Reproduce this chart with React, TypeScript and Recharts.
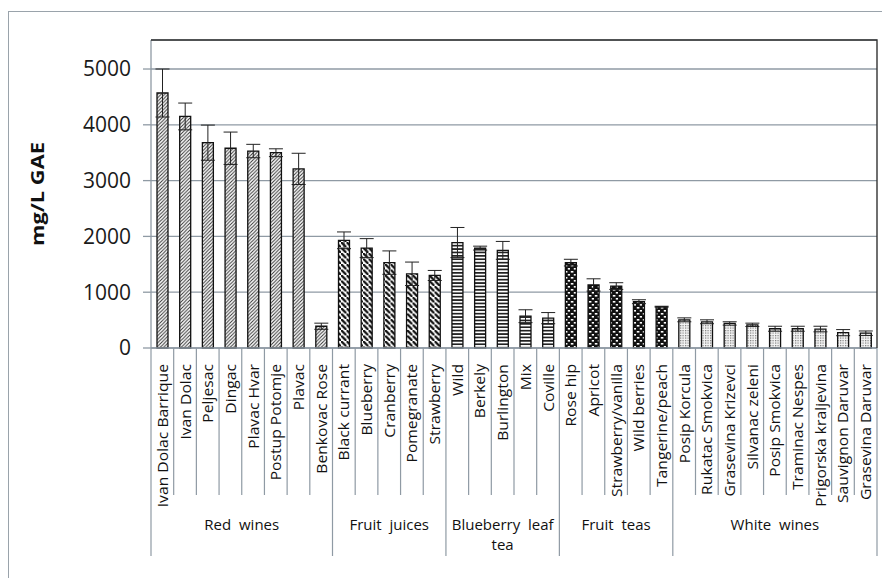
import React from "react";
import {
  BarChart,
  Bar,
  Cell,
  ErrorBar,
  XAxis,
  YAxis,
  CartesianGrid,
} from "recharts";

// Categories, grouped as on the original axis
const redWines = ["Ivan Dolac Barrique", "Ivan Dolac", "Peljesac", "Dingac", "Plavac Hvar", "Postup Potomje", "Plavac", "Benkovac Rose"];
const redWineValues = [4570, 4150, 3680, 3580, 3530, 3500, 3210, 390];
const redWineErrors = [430, 240, 315, 290, 120, 70, 280, 55];

const fruitJuices = ["Black currant", "Blueberry", "Cranberry", "Pomegranate", "Strawberry"];
const fruitJuiceValues = [1930, 1790, 1530, 1330, 1300];
const fruitJuiceErrors = [150, 170, 210, 210, 90];

const leafTeas = ["Wild", "Berkely", "Burlington", "Mix", "Coville"];
const leafTeaValues = [1890, 1790, 1750, 570, 535];
const leafTeaErrors = [270, 35, 160, 115, 100];

const fruitTeas = ["Rose hip", "Apricot", "Strawberry/vanilla", "Wild berries", "Tangerine/peach"];
const fruitTeaValues = [1530, 1130, 1110, 830, 740];
const fruitTeaErrors = [60, 110, 60, 35, 8];

const whiteWines = ["Posip Korcula", "Rukatac Smokvica", "Grasevina Krizevci", "Silvanac zeleni", "Posip Smokvica", "Traminac Nespes", "Prigorska kraljevina", "Sauvignon Daruvar", "Grasevina Daruvar"];
const whiteWineValues = [505, 470, 440, 415, 345, 345, 340, 275, 265];
const whiteWineErrors = [35, 35, 30, 30, 45, 45, 50, 55, 40];

const yTicks = [0, 1000, 2000, 3000, 4000, 5000];
const Y_MAX = 5520;

const groups = [
  { key: "red", label: ["Red  wines"], names: redWines, values: redWineValues, errors: redWineErrors },
  { key: "juice", label: ["Fruit  juices"], names: fruitJuices, values: fruitJuiceValues, errors: fruitJuiceErrors },
  { key: "leaf", label: ["Blueberry  leaf", "tea"], names: leafTeas, values: leafTeaValues, errors: leafTeaErrors },
  { key: "fruit", label: ["Fruit  teas"], names: fruitTeas, values: fruitTeaValues, errors: fruitTeaErrors },
  { key: "white", label: ["White  wines"], names: whiteWines, values: whiteWineValues, errors: whiteWineErrors },
];

const chartData = groups.flatMap((g) =>
  g.names.map((name, i) => ({ name, value: g.values[i], err: g.errors[i], group: g.key }))
);

// layout
const W = 882;
const H = 578;
const Y_AXIS_W = 151;
const X_AXIS_H = 230;
const MARGIN = { top: 40, right: 5, left: 0, bottom: 0 };
const PLOT_LEFT = Y_AXIS_W;
const PLOT_RIGHT = W - MARGIN.right;
const PLOT_TOP = MARGIN.top;
const PLOT_BOTTOM = H - X_AXIS_H;
const BW = (PLOT_RIGHT - PLOT_LEFT) / chartData.length;

const GRID = "#8f9aa4";
const FONT = "'Open Sans', sans-serif";

function CategoryTick(props: any) {
  const { payload } = props;
  let index = props.index;
  if (index == null || chartData[index]?.name !== payload.value) {
    index = chartData.findIndex((d) => d.name === payload.value);
  }
  const row = chartData[index];
  const cx = payload.coordinate;
  const left = cx - BW / 2;
  const first = index === 0 || chartData[index - 1].group !== row.group;
  const last = index === chartData.length - 1;
  const group = groups.find((g) => g.key === row.group)!;
  const labelTop = PLOT_BOTTOM + 16;
  return (
    <g>
      <line x1={left} y1={PLOT_BOTTOM} x2={left} y2={first ? 556 : 495} stroke={GRID} strokeWidth={1.2} />
      {last && (
        <line x1={left + BW} y1={PLOT_BOTTOM} x2={left + BW} y2={556} stroke={GRID} strokeWidth={1.2} />
      )}
      <text
        x={0}
        y={0}
        transform={`translate(${cx + 5.5}, ${labelTop}) rotate(-90) scale(1.12, 1)`}
        textAnchor="end"
        fontSize={14}
        fontFamily={FONT}
        fill="#111"
      >
        {row.name}
      </text>
      {first &&
        group.label.map((line, li) => (
          <text
            key={li}
            x={left + (group.names.length * BW) / 2}
            y={530 + li * 19.5}
            textAnchor="middle"
            fontSize={15}
            fontFamily={FONT}
            fill="#111"
            style={{ whiteSpace: "pre" }}
          >
            {line}
          </text>
        ))}
    </g>
  );
}

const patternFor: Record<string, string> = {
  red: "url(#pat-red)",
  juice: "url(#pat-juice)",
  leaf: "url(#pat-leaf)",
  fruit: "url(#pat-fruit)",
  white: "url(#pat-white)",
};

export default function App() {
  return (
    <div style={{ position: "absolute", left: 0, top: 0, width: W, height: H, overflow: "hidden", background: "#fff" }}>
      {/* outer frame of the source figure */}
      <div
        style={{
          position: "absolute",
          left: 8,
          top: 11,
          width: 1000,
          height: 1000,
          borderTop: "1.5px solid #9aa3ab",
          borderLeft: "1.5px solid #9aa3ab",
        }}
      />
      <BarChart width={W} height={H} data={chartData} margin={MARGIN} barSize={11}>
        <defs>
          <pattern id="pat-red" patternUnits="userSpaceOnUse" width="3.5" height="3.5">
            <rect width="3.5" height="3.5" fill="#fff" />
            <path d="M-1,1 l2,-2 M0,3.5 l3.5,-3.5 M2.5,4.5 l2,-2" stroke="#333" strokeWidth="1" />
          </pattern>
          <pattern id="pat-juice" patternUnits="userSpaceOnUse" width="5.5" height="5.5">
            <rect width="5.5" height="5.5" fill="#fff" />
            <path d="M-1.5,-1.5 l2.75,2.75 M0,0 l5.5,5.5 M4.25,4.25 l2.75,2.75" stroke="#111" strokeWidth="2.3" />
          </pattern>
          <pattern id="pat-leaf" patternUnits="userSpaceOnUse" width="4" height="3.4">
            <rect width="4" height="3.4" fill="#fff" />
            <rect y="0" width="4" height="1.7" fill="#222" />
          </pattern>
          <pattern id="pat-fruit" patternUnits="userSpaceOnUse" width="6" height="6">
            <rect width="6" height="6" fill="#111" />
            <rect x="0.8" y="1" width="2.6" height="1.6" fill="#fff" />
            <rect x="3.8" y="4" width="2.2" height="1.6" fill="#fff" />
          </pattern>
          <pattern id="pat-white" patternUnits="userSpaceOnUse" width="2.5" height="2.5">
            <rect width="2.5" height="2.5" fill="#f4f4f4" />
            <rect width="1.2" height="1.2" fill="#777" />
          </pattern>
        </defs>
        <CartesianGrid vertical={false} stroke={GRID} strokeWidth={1.3} />
        <XAxis
          dataKey="name"
          interval={0}
          height={X_AXIS_H}
          tickLine={false}
          axisLine={{ stroke: GRID, strokeWidth: 1.3 }}
          tick={<CategoryTick />}
        />
        <YAxis
          width={Y_AXIS_W}
          domain={[0, Y_MAX]}
          ticks={yTicks}
          tickSize={8}
          tickMargin={12}
          tickLine={{ stroke: GRID, strokeWidth: 1.3 }}
          axisLine={{ stroke: GRID, strokeWidth: 1.3 }}
          tick={{ fontSize: 21, fill: "#1a1a1a", fontFamily: FONT }}
        />
        <Bar dataKey="value" stroke="#111" strokeWidth={1.3} isAnimationActive={false}>
          {chartData.map((d) => (
            <Cell key={d.name} fill={patternFor[d.group]} />
          ))}
          <ErrorBar dataKey="err" width={7} stroke="#222" strokeWidth={1} direction="y" />
        </Bar>
      </BarChart>
      {/* plot frame and y-axis title */}
      <svg width={W} height={H} style={{ position: "absolute", left: 0, top: 0, pointerEvents: "none" }}>
        <path
          d={`M${PLOT_LEFT},${PLOT_TOP} H${PLOT_RIGHT} V${PLOT_BOTTOM}`}
          fill="none"
          stroke="#333"
          strokeWidth={1.4}
        />
        <text
          x={44}
          y={(PLOT_TOP + PLOT_BOTTOM) / 2}
          transform={`rotate(-90, 44, ${(PLOT_TOP + PLOT_BOTTOM) / 2})`}
          textAnchor="middle"
          fontSize={18}
          fontWeight="bold"
          fontFamily={FONT}
          fill="#111"
          textLength={104}
          lengthAdjust="spacingAndGlyphs"
        >
          mg/L GAE
        </text>
      </svg>
    </div>
  );
}
